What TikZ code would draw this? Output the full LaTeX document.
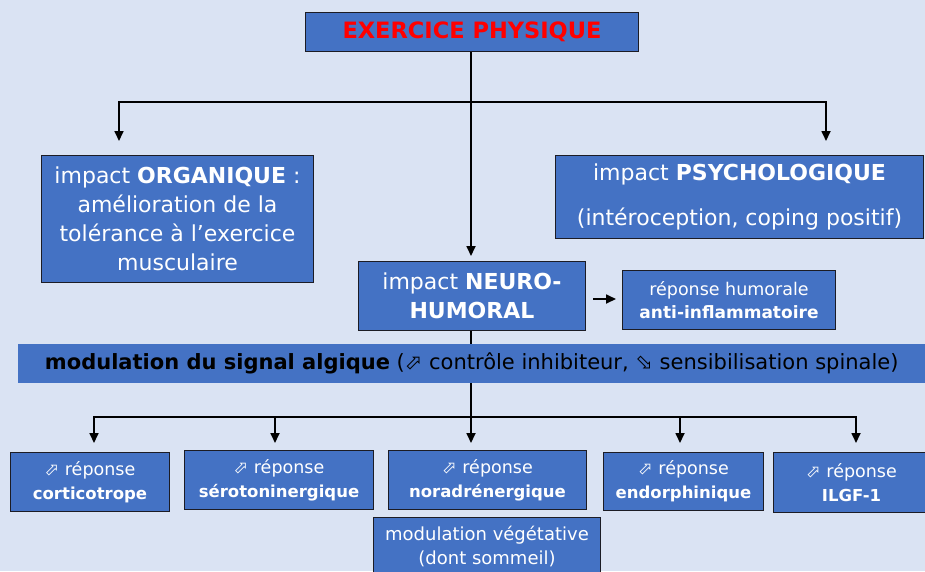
\documentclass[tikz,border=0pt]{standalone}
\usepackage{fontspec}
\setmainfont{DejaVu Sans}
\newfontfamily\symfont{DejaVu Sans}
\usetikzlibrary{arrows.meta,backgrounds}
\definecolor{bg}{HTML}{DAE3F3}
\definecolor{boxblue}{HTML}{4472C4}
\definecolor{boxedge}{HTML}{1C1C24}
\definecolor{titlered}{HTML}{FF0000}
\newcommand{\upar}{{\symfont\char"2B00}}
\newcommand{\dnar}{{\symfont\char"2B02}}
\newcommand{\bsm}[1]{{\fontsize{16.5}{24}\selectfont\bfseries #1}}
\begin{document}
\begin{tikzpicture}[x=1pt,y=-1pt,
  box/.style={draw=boxedge, line width=1pt, fill=boxblue, text=white, align=center,
              inner sep=0pt, anchor=north west},
  big/.style={font=\fontsize{22}{29}\selectfont},
  small/.style={font=\fontsize{17.5}{24}\selectfont},
  conn/.style={line width=1.7pt, draw=black},
  arr/.style={conn, -{Triangle[length=10pt,width=9pt]}}]
\useasboundingbox (0,0) rectangle (925,571);
\begin{scope}[on background layer]
  \fill[bg] (0,0) rectangle (925,571);
\end{scope}

% top node
\node[box, minimum width=333pt, minimum height=39pt, text=titlered,
      font=\fontsize{22.5}{25}\selectfont\bfseries] (top) at (305,12) {EXERCICE PHYSIQUE};

% level 2
\node[box, big, minimum width=272pt, minimum height=127pt] (org) at (41,155)
  {impact \textbf{ORGANIQUE} :\\amélioration de la\\tolérance à l’exercice\\musculaire};
\node[box, big, minimum width=368pt, minimum height=83pt] (psy) at (555,155)
  {impact \textbf{PSYCHOLOGIQUE}\\[16pt](intéroception, coping positif)};
\node[box, big, minimum width=227pt, minimum height=69pt] (neuro) at (358,261)
  {impact \textbf{NEURO-}\\\textbf{HUMORAL}};
\node[box, font=\fontsize{17.5}{23}\selectfont, minimum width=213pt, minimum height=59pt] (hum) at (622,270)
  {réponse humorale\\{\fontsize{17}{23}\selectfont\bfseries anti-inflammatoire}};

% bar
\node[anchor=north west, fill=boxblue, inner sep=0pt, minimum width=907pt, minimum height=39pt,
      font=\fontsize{21}{24}\selectfont, text=black] (bar) at (18,344)
  {\textbf{modulation du signal algique} (\upar{} contrôle inhibiteur, \dnar{} sensibilisation spinale)};

% bottom row
\node[box, small, minimum width=159pt, minimum height=59pt] (cort) at (10,452)
  {\upar{} réponse\\\bsm{corticotrope}};
\node[box, small, minimum width=189pt, minimum height=59pt] (sero) at (184,450)
  {\upar{} réponse\\\bsm{sérotoninergique}};
\node[box, small, minimum width=198pt, minimum height=59pt] (nora) at (388,450)
  {\upar{} réponse\\\bsm{noradrénergique}};
\node[box, small, minimum width=160pt, minimum height=58pt] (endo) at (603,452)
  {\upar{} réponse\\\bsm{endorphinique}};
\node[box, small, minimum width=156pt, minimum height=60pt] (ilgf) at (773,452)
  {\upar{} réponse\\\bsm{ILGF-1}};
\node[box, font=\fontsize{18}{24}\selectfont, minimum width=227pt, minimum height=58pt] (veg) at (373,517)
  {modulation végétative\\(dont sommeil)};

% connector points
\coordinate (j1) at (471,102);
\coordinate (aorg) at (119,141);
\coordinate (apsy) at (826,141);
\coordinate (aneu) at (471,256);
\coordinate (j2) at (471,417);
\coordinate (b1) at (94,443);
\coordinate (b2) at (275,443);
\coordinate (b3) at (471,443);
\coordinate (b4) at (680,443);
\coordinate (b5) at (856,443);

\begin{scope}[on background layer]
  \draw[conn] (top.south -| j1) -- (j1);
  \draw[arr] (j1) -- (aneu);
  \draw[arr] (j1) -| (aorg);
  \draw[arr] (j1) -| (apsy);
  \draw[conn] (neuro.south -| j2) -- (j2);
  \draw[arr] (j2) -| (b1);
  \draw[arr] (j2) -| (b2);
  \draw[arr] (j2) -- (b3);
  \draw[arr] (j2) -| (b4);
  \draw[arr] (j2) -| (b5);
\end{scope}
\draw[arr, shorten <=7pt, shorten >=6pt] (neuro.east |- 0,299) -- (hum.west |- 0,299);
\end{tikzpicture}
\end{document}
